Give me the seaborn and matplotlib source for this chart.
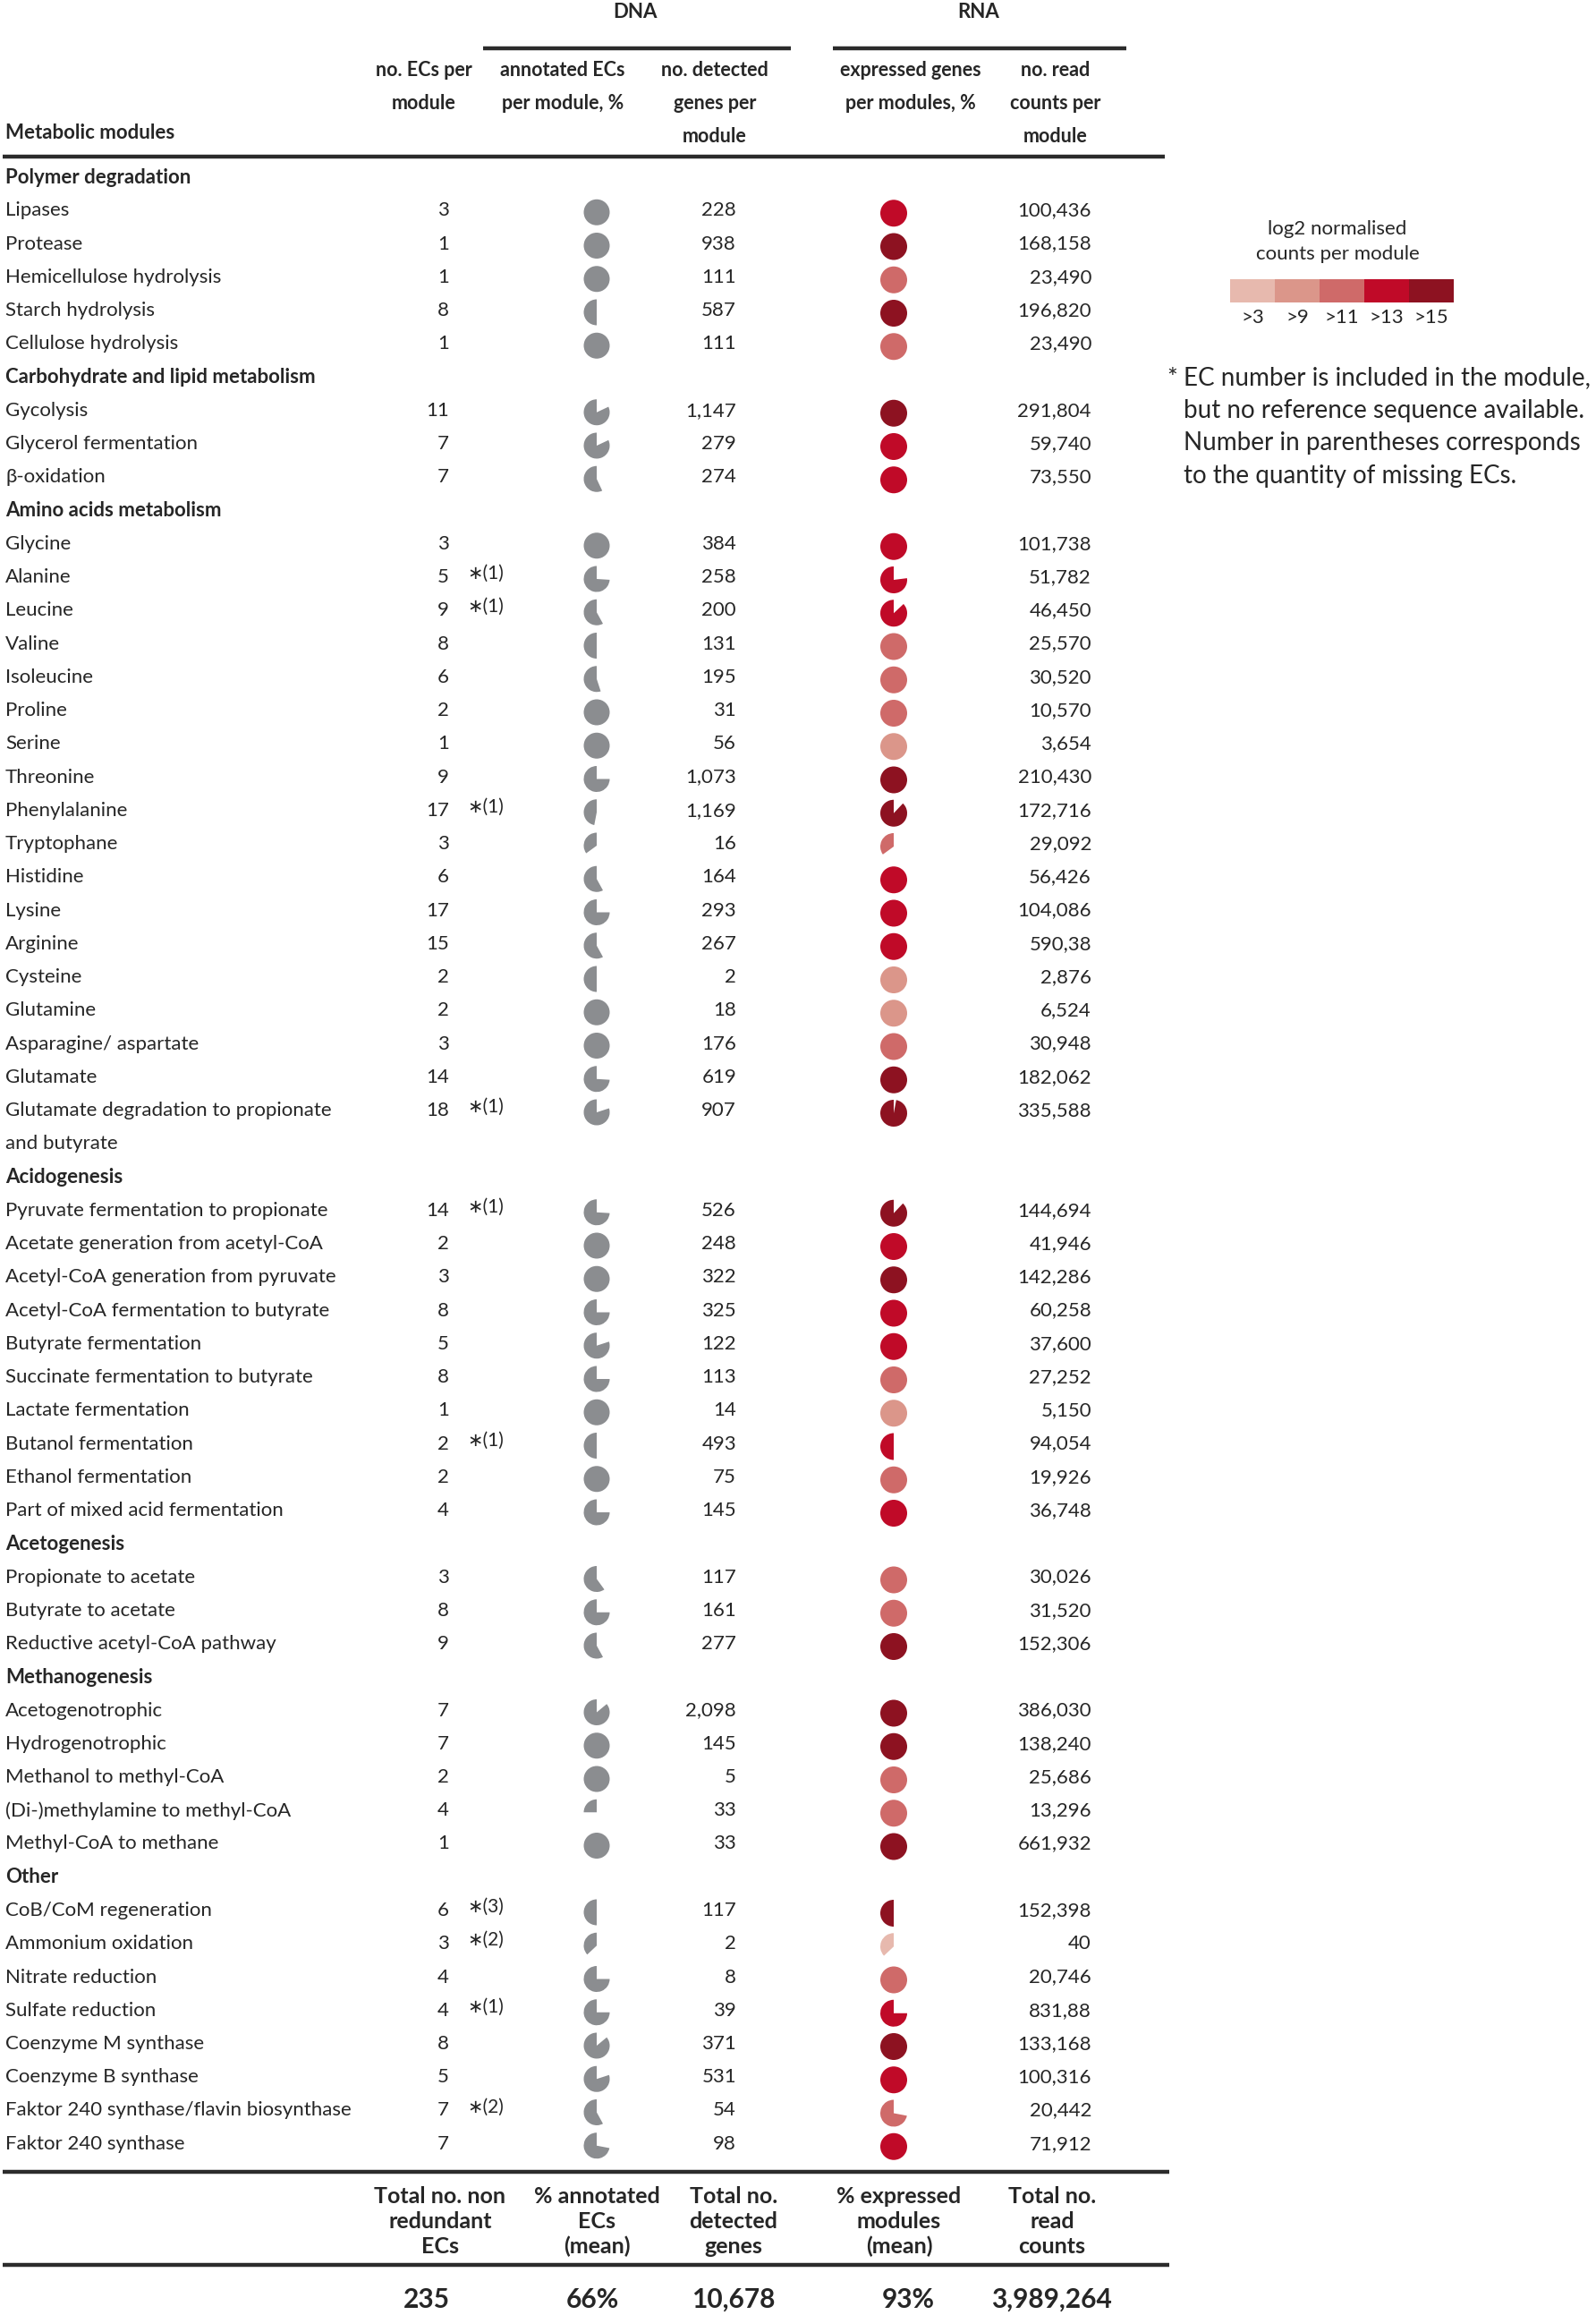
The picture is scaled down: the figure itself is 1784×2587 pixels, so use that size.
import numpy as np
import matplotlib
matplotlib.use("Agg")
import matplotlib.pyplot as plt
from matplotlib.patches import Wedge
from matplotlib.colors import ListedColormap
import seaborn as sns

groups = ["Polymer degradation", "Carbohydrate and lipid metabolism", "Amino acids metabolism",
          "Acidogenesis", "Acetogenesis", "Methanogenesis", "Other"]
group_sizes = [5, 3, 18, 10, 3, 5, 8]

modules = [
    "Lipases", "Protease", "Hemicellulose hydrolysis", "Starch hydrolysis", "Cellulose hydrolysis",
    "Gycolysis", "Glycerol fermentation", "β-oxidation",
    "Glycine", "Alanine", "Leucine", "Valine", "Isoleucine", "Proline", "Serine", "Threonine",
    "Phenylalanine", "Tryptophane", "Histidine", "Lysine", "Arginine", "Cysteine", "Glutamine",
    "Asparagine/ aspartate", "Glutamate", "Glutamate degradation to propionate\nand butyrate",
    "Pyruvate fermentation to propionate", "Acetate generation from acetyl-CoA",
    "Acetyl-CoA generation from pyruvate", "Acetyl-CoA fermentation to butyrate",
    "Butyrate fermentation", "Succinate fermentation to butyrate", "Lactate fermentation",
    "Butanol fermentation", "Ethanol fermentation", "Part of mixed acid fermentation",
    "Propionate to acetate", "Butyrate to acetate", "Reductive acetyl-CoA pathway",
    "Acetogenotrophic", "Hydrogenotrophic", "Methanol to methyl-CoA",
    "(Di-)methylamine to methyl-CoA", "Methyl-CoA to methane",
    "CoB/CoM regeneration", "Ammonium oxidation", "Nitrate reduction", "Sulfate reduction",
    "Coenzyme M synthase", "Coenzyme B synthase", "Faktor 240 synthase/flavin biosynthase",
    "Faktor 240 synthase",
]

n_ecs = [3, 1, 1, 8, 1,
         11, 7, 7,
         3, 5, 9, 8, 6, 2, 1, 9, 17, 3, 6, 17, 15, 2, 2, 3, 14, 18,
         14, 2, 3, 8, 5, 8, 1, 2, 2, 4,
         3, 8, 9,
         7, 7, 2, 4, 1,
         6, 3, 4, 4, 8, 5, 7, 7]

missing_ecs = [0, 0, 0, 0, 0,
               0, 0, 0,
               0, 1, 1, 0, 0, 0, 0, 0, 1, 0, 0, 0, 0, 0, 0, 0, 0, 1,
               1, 0, 0, 0, 0, 0, 0, 1, 0, 0,
               0, 0, 0,
               0, 0, 0, 0, 0,
               3, 2, 0, 1, 0, 0, 2, 0]

dna_annotated = [1.0, 1.0, 1.0, 0.5, 1.0,
                 0.82, 0.82, 0.57,
                 1.0, 0.74, 0.58, 0.5, 0.55, 1.0, 1.0, 0.75, 0.47, 0.35, 0.58, 0.75, 0.58,
                 0.5, 1.0, 1.0, 0.74, 0.8,
                 0.74, 1.0, 1.0, 0.75, 0.8, 0.75, 1.0, 0.5, 1.0, 0.75,
                 0.6, 0.75, 0.58,
                 0.86, 1.0, 1.0, 0.25, 1.0,
                 0.5, 0.37, 0.75, 0.75, 0.86, 0.8, 0.58, 0.72]

detected_genes = [228, 938, 111, 587, 111,
                  1147, 279, 274,
                  384, 258, 200, 131, 195, 31, 56, 1073, 1169, 16, 164, 293, 267, 2, 18, 176, 619, 907,
                  526, 248, 322, 325, 122, 113, 14, 493, 75, 145,
                  117, 161, 277,
                  2098, 145, 5, 33, 33,
                  117, 2, 8, 39, 371, 531, 54, 98]

rna_expressed = [1.0, 1.0, 1.0, 1.0, 1.0,
                 1.0, 1.0, 1.0,
                 1.0, 0.77, 0.87, 1.0, 1.0, 1.0, 1.0, 1.0, 0.88, 0.35, 1.0, 1.0, 1.0,
                 1.0, 1.0, 1.0, 1.0, 0.97,
                 0.88, 1.0, 1.0, 1.0, 1.0, 1.0, 1.0, 0.5, 1.0, 1.0,
                 1.0, 1.0, 1.0,
                 1.0, 1.0, 1.0, 1.0, 1.0,
                 0.5, 0.37, 1.0, 0.75, 1.0, 1.0, 0.72, 1.0]

read_counts = ["100,436", "168,158", "23,490", "196,820", "23,490",
               "291,804", "59,740", "73,550",
               "101,738", "51,782", "46,450", "25,570", "30,520", "10,570", "3,654", "210,430",
               "172,716", "29,092", "56,426", "104,086", "590,38", "2,876", "6,524", "30,948",
               "182,062", "335,588",
               "144,694", "41,946", "142,286", "60,258", "37,600", "27,252", "5,150", "94,054",
               "19,926", "36,748",
               "30,026", "31,520", "152,306",
               "386,030", "138,240", "25,686", "13,296", "661,932",
               "152,398", "40", "20,746", "831,88", "133,168", "100,316", "20,442", "71,912"]

# log2 class index: 0 >3, 1 >9, 2 >11, 3 >13, 4 >15
count_class = [3, 4, 2, 4, 2,
               4, 3, 3,
               3, 3, 3, 2, 2, 2, 1, 4, 4, 2, 3, 3, 3, 1, 1, 2, 4, 4,
               4, 3, 4, 3, 3, 2, 1, 3, 2, 3,
               2, 2, 4,
               4, 4, 2, 2, 4,
               4, 0, 2, 3, 4, 3, 2, 3]

class_labels = [">3", ">9", ">11", ">13", ">15"]
class_colors = ["#E7B9AE", "#DB968A", "#CF6A69", "#C00A28", "#8D1221"]
grey = "#8B8D90"

total_labels = ["Total no. non\nredundant\nECs", "% annotated\nECs\n(mean)", "Total no.\ndetected\ngenes",
                "% expressed\nmodules\n(mean)", "Total no.\nread\ncounts"]
total_values = ["235", "66%", "10,678", "93%", "3,989,264"]

col_headers = ["no. ECs per\nmodule", "annotated ECs\nper module, %", "no. detected\ngenes per\nmodule",
               "expressed genes\nper modules, %", "no. read\ncounts per\nmodule"]

# ---- figure in pixel coordinates
W, H = 1784, 2587
sns.set_theme(style="white")
plt.rcParams['font.family'] = ['Lato', 'DejaVu Sans']

fig = plt.figure(figsize=(W / 100, H / 100), dpi=100)
ax = fig.add_axes([0, 0, 1, 1])
ax.set_xlim(0, W)
ax.set_ylim(H, 0)
ax.axis("off")

fs = 16
x_label, x_ec, x_star, x_dna, x_genes, x_rna, x_reads = 6, 502, 522, 667, 823, 999, 1220
head_x = [474, 629, 799, 1018, 1180]
row0, step = 198, 37.25
r = 14.5
line_kw = dict(color="#2b2b2b", lw=3.2, solid_capstyle="butt")

# top header
ax.text(710, 13, "DNA", ha="center", va="center", fontsize=fs, fontweight="bold")
ax.text(1094, 13, "RNA", ha="center", va="center", fontsize=fs, fontweight="bold")
ax.plot([540, 884], [54, 54], **line_kw)
ax.plot([931, 1259], [54, 54], **line_kw)
for hx, h in zip(head_x, col_headers):
    for k, part in enumerate(h.split("\n")):
        ax.text(hx, 78 + k * 37, part, ha="center", va="center", fontsize=fs - 0.5, fontweight="bold")
ax.text(x_label, 148, "Metabolic modules", ha="left", va="center", fontsize=fs, fontweight="bold")
ax.plot([3, 1302], [175, 175], **line_kw)

# rows
slot = 0
m = 0
for g, size in zip(groups, group_sizes):
    y = row0 + slot * step
    ax.text(x_label, y, g, ha="left", va="center", fontsize=fs, fontweight="bold")
    slot += 1
    for _ in range(size):
        y = row0 + slot * step
        lines = modules[m].split("\n")
        for k, part in enumerate(lines):
            ax.text(x_label, y + k * step, part, ha="left", va="center", fontsize=fs)
        ax.text(x_ec, y, str(n_ecs[m]), ha="right", va="center", fontsize=fs)
        if missing_ecs[m]:
            ax.text(x_star, y - 4, "∗(%d)" % missing_ecs[m], ha="left", va="center", fontsize=fs - 1)
        f = dna_annotated[m]
        ax.add_patch(Wedge((x_dna, y + 2), r, -90 - 360 * f, -90, color=grey, lw=0))
        ax.text(x_genes, y, f"{detected_genes[m]:,}", ha="right", va="center", fontsize=fs)
        f = rna_expressed[m]
        ax.add_patch(Wedge((x_rna, y + 3), r + 0.5, -90 - 360 * f, -90,
                           color=class_colors[count_class[m]], lw=0))
        ax.text(x_reads, y, read_counts[m], ha="right", va="center", fontsize=fs)
        slot += len(lines)
        m += 1

# footer
ax.plot([3, 1307], [2427, 2427], **line_kw)
foot_x = [492, 667, 820, 1005, 1176]
for fx, lab in zip(foot_x, total_labels):
    for k, part in enumerate(lab.split("\n")):
        ax.text(fx, 2454 + k * 28, part, ha="center", va="center", fontsize=18, fontweight="bold")
ax.plot([3, 1307], [2531, 2531], **line_kw)
tot_x = [477, 662, 820, 1015, 1175]
for tx, v in zip(tot_x, total_values):
    ax.text(tx, 2570, v, ha="center", va="center", fontsize=21.5, fontweight="bold")

# legend for log2 counts
ax.text(1495, 256, "log2 normalised", ha="center", va="center", fontsize=16)
ax.text(1495, 284, "counts per module", ha="center", va="center", fontsize=16)
lax = fig.add_axes([1375 / W, 1 - 338 / H, 250 / W, 26 / H])
sns.heatmap(np.arange(5).reshape(1, 5), cmap=ListedColormap(class_colors), cbar=False,
            xticklabels=class_labels, yticklabels=False, ax=lax)
lax.tick_params(axis="x", length=0, labelsize=16, pad=5, rotation=0)

# footnote
ax.text(1304, 424, "*", ha="left", va="center", fontsize=20)
note = ["EC number is included in the module,", "but no reference sequence available.",
        "Number in parentheses corresponds", "to the quantity of missing ECs."]
for k, line in enumerate(note):
    ax.text(1323, 422 + k * 36.5, line, ha="left", va="center", fontsize=20)

fig.savefig("out.png", dpi=100)
